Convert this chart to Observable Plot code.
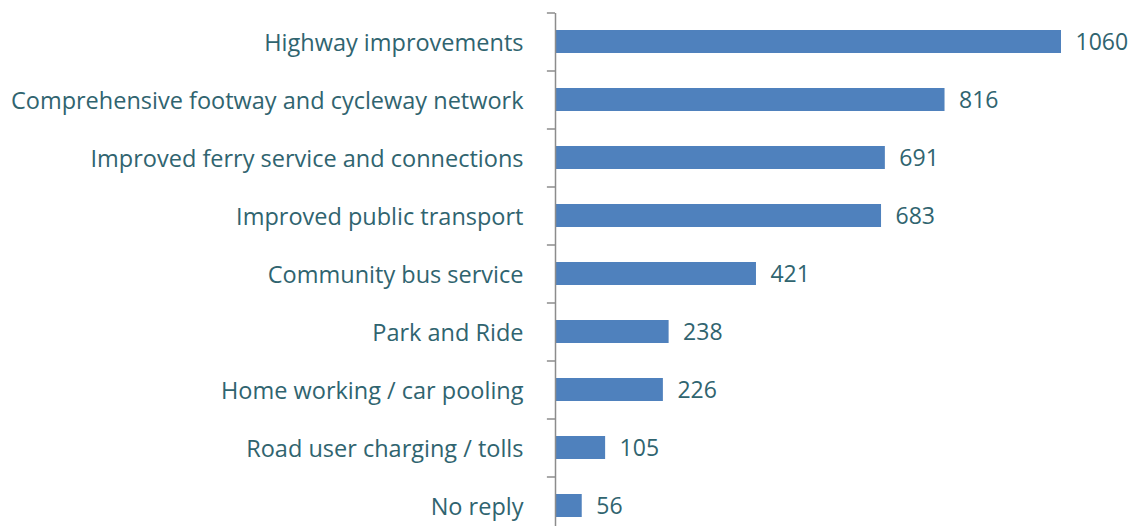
<!DOCTYPE html>
<html>
<head>
<meta charset="utf-8">
<script src="https://cdn.jsdelivr.net/npm/d3@7"></script>
<script src="https://cdn.jsdelivr.net/npm/@observablehq/plot@0.6"></script>
<style>
  html, body { margin: 0; padding: 0; background: #fff; overflow: hidden; }
  #chart { width: 1138px; height: 526px; overflow: hidden; }
</style>
</head>
<body>
<div id="chart"></div>
<script>
const categories = [
  "Highway improvements",
  "Comprehensive footway and cycleway network",
  "Improved ferry service and connections",
  "Improved public transport",
  "Community bus service",
  "Park and Ride",
  "Home working / car pooling",
  "Road user charging / tolls",
  "No reply"
];
const values = [1060, 816, 691, 683, 421, 238, 226, 105, 56];

const data = categories.map((c, i) => ({category: c, value: values[i]}));
const textColor = "#30646f";
const font = "'Open Sans', sans-serif";

const chart = Plot.plot({
  width: 1138,
  height: 535,
  marginLeft: 555,
  marginRight: 77,
  marginTop: 13,
  marginBottom: 0,
  style: {fontFamily: font, fontSize: "23.5px", color: textColor, background: "#fff"},
  x: {domain: [0, 1060], axis: null},
  y: {domain: categories, paddingInner: 0.6, paddingOuter: 0.3, label: null},
  marks: [
    Plot.barX(data, {x: "value", y: "category", fill: "#4f81bd", insetLeft: 1}),
    Plot.ruleX([0], {stroke: "#8c8c8c", strokeWidth: 1.5}),
    Plot.ruleY(categories, {y: d => d, x1: -17, x2: 0, dy: -29, stroke: "#8c8c8c", strokeWidth: 1.5}),
    Plot.axisY({tickSize: 0, tickPadding: 32, fontSize: 23.5, fill: textColor, label: null, dy: 1}),
    Plot.text(data, {x: "value", y: "category", text: d => String(d.value), textAnchor: "start", dx: 14, dy: 1, fontSize: 23, fill: textColor})
  ]
});
document.getElementById("chart").appendChild(chart);
</script>
</body>
</html>
